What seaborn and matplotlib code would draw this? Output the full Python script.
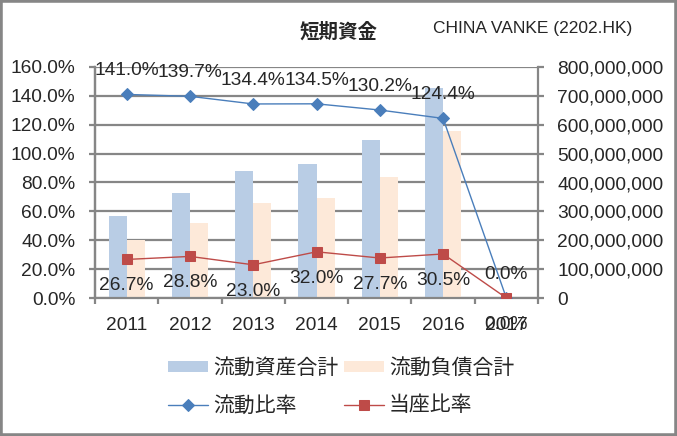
import numpy as np
import pandas as pd
import matplotlib
matplotlib.use("Agg")
import matplotlib.pyplot as plt
import seaborn as sns
from matplotlib.patches import Rectangle
from matplotlib.ticker import FuncFormatter, MultipleLocator, FixedLocator

# ---- data ----
years = ["2011", "2012", "2013", "2014", "2015", "2016", "2017"]
current_assets = [284e6, 363e6, 439e6, 464e6, 547e6, 726e6, 0]
current_liabilities = [200e6, 260e6, 329e6, 346e6, 419e6, 578e6, 0]
current_ratio = [141.0, 139.7, 134.4, 134.5, 130.2, 124.4, 0.0]
quick_ratio = [26.7, 28.8, 23.0, 32.0, 27.7, 30.5, 0.0]

bar_names = ["流動資産合計", "流動負債合計"]
line_names = ["流動比率", "当座比率"]

# ---- style ----
sns.set_style("white")
plt.rcParams["font.family"] = ["Liberation Sans", "Noto Sans CJK JP"]

COLORS = {
    "assets": "#B9CDE5",
    "liabilities": "#FDE9D9",
    "current": "#4A7EBB",
    "quick": "#BE4B48",
    "grid": "#868686",
}
TICK_FS = 13.8

bars_df = pd.DataFrame({
    "year": years * 2,
    "value": current_assets + current_liabilities,
    "series": [bar_names[0]] * len(years) + [bar_names[1]] * len(years),
})

fig = plt.figure(figsize=(6.77, 4.36), dpi=100)
ax = fig.add_axes([95 / 677, 1 - 298 / 436, (538 - 95) / 677, (298 - 67) / 436])

# bars (right hand scale)
sns.barplot(data=bars_df, x="year", y="value", hue="series",
            palette=[COLORS["assets"], COLORS["liabilities"]],
            saturation=1, width=0.57, edgecolor="none", linewidth=0, ax=ax)
bar_handles, bar_labels = ax.get_legend_handles_labels()
ax.get_legend().remove()

# lines (left hand scale)
ax2 = ax.twinx()
xpos = np.arange(len(years))
sns.lineplot(x=xpos, y=current_ratio, ax=ax2, color=COLORS["current"],
             marker="D", markersize=6, markeredgecolor=COLORS["current"],
             linewidth=1, label=line_names[0])
sns.lineplot(x=xpos, y=quick_ratio, ax=ax2, color=COLORS["quick"],
             marker="s", markersize=6.5, markeredgecolor=COLORS["quick"],
             linewidth=1, label=line_names[1])
line_handles, line_labels = ax2.get_legend_handles_labels()
ax2.get_legend().remove()

# data labels
for i, v in enumerate(current_ratio):
    ax2.annotate(f"{v:.1f}%", (i, v), xytext=(0, 17), textcoords="offset points",
                 ha="center", va="center", fontsize=TICK_FS)
for i, v in enumerate(quick_ratio):
    ax2.annotate(f"{v:.1f}%", (i, v), xytext=(0, -19), textcoords="offset points",
                 ha="center", va="center", fontsize=TICK_FS)

# axes
ax.set_xlim(-0.5, len(years) - 0.5)
ax.set_ylim(0, 800e6)
ax2.set_ylim(0, 160)
ax.set_xlabel("")
ax.set_ylabel("")
ax2.set_ylabel("")

ax.yaxis.tick_right()
ax2.yaxis.tick_left()
ax.yaxis.set_major_locator(MultipleLocator(100e6))
ax2.yaxis.set_major_locator(MultipleLocator(20))
ax.yaxis.set_major_formatter(FuncFormatter(lambda v, p: f"{int(round(v)):,}"))
ax2.yaxis.set_major_formatter(FuncFormatter(lambda v, p: f"{v:.1f}%"))

ax.grid(axis="y", color=COLORS["grid"], linewidth=1.6)
ax.set_axisbelow(True)

for side in ["left", "right", "bottom"]:
    ax.spines[side].set_color(COLORS["grid"])
    ax.spines[side].set_linewidth(1.6)
ax.spines["top"].set_visible(False)
for side in ax2.spines:
    ax2.spines[side].set_visible(False)

ax.tick_params(axis="y", which="major", direction="out", length=4, width=1.6,
               color=COLORS["grid"], labelsize=TICK_FS, pad=10, right=True, left=False)
ax2.tick_params(axis="y", which="major", direction="out", length=4, width=1.6,
                color=COLORS["grid"], labelsize=TICK_FS, pad=10)
ax2.spines["left"].set_visible(True)
ax2.spines["left"].set_color(COLORS["grid"])
ax2.spines["left"].set_linewidth(1.6)

ax.xaxis.set_minor_locator(FixedLocator(np.arange(-0.5, len(years), 1.0)))
ax.tick_params(axis="x", which="major", length=0, labelsize=TICK_FS, pad=14)
ax.tick_params(axis="x", which="minor", direction="out", length=4, width=1.6,
               color=COLORS["grid"], bottom=True)

# titles
fig.text(339 / 677, 1 - 32 / 436, "短期資金", ha="center", va="center",
         fontsize=14, fontweight="bold", family=["Noto Sans CJK JP"])
fig.text(433 / 677, 1 - 28 / 436, "CHINA VANKE (2202.HK)", ha="left", va="center",
         fontsize=12.5)

# legend, row-wise order
handles = [bar_handles[0], line_handles[0], bar_handles[1], line_handles[1]]
labels = [bar_labels[0], line_labels[0], bar_labels[1], line_labels[1]]
fig.legend(handles, labels, ncol=2, loc="upper left",
           bbox_to_anchor=(168 / 677, 1 - 358 / 436), frameon=False,
           fontsize=15, handlelength=1.9, handleheight=0.5, handletextpad=0.25,
           columnspacing=0.3, labelspacing=0.85, borderpad=0, borderaxespad=0)

# chart border
fig.add_artist(Rectangle((0, 0), 1, 1, transform=fig.transFigure, fill=False,
                         edgecolor=COLORS["grid"], linewidth=4))

fig.savefig("out.png", dpi=100)
